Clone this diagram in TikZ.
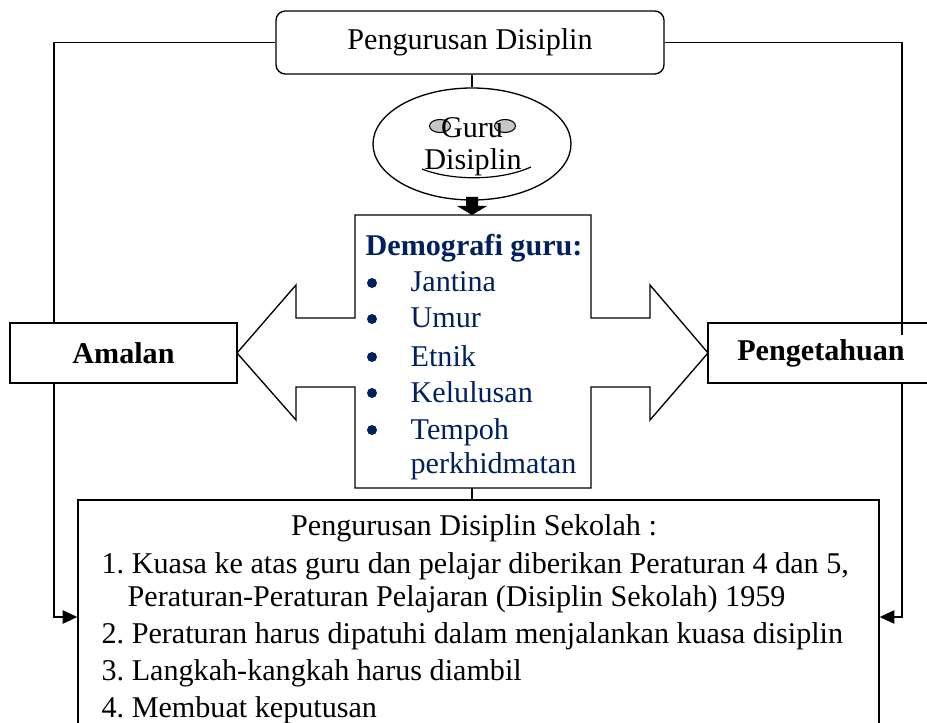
\documentclass[tikz,border=0pt]{standalone}
\usepackage{fontspec}
\setmainfont{Liberation Serif}
\usetikzlibrary{arrows.meta,shapes.geometric}
\definecolor{navy}{RGB}{0,32,96}
\newcommand{\myfs}{\fontsize{22.6}{27.4}\selectfont\frenchspacing}
\begin{document}
\begin{tikzpicture}[x=0.75pt,y=-0.75pt, line width=1pt,
  box/.style={draw, inner sep=0pt, font=\myfs},
  txt/.style={inner sep=0pt, font=\myfs, anchor=base west},
  ctxt/.style={inner sep=0pt, font=\myfs, anchor=base},
  dtxt/.style={inner sep=0pt, font=\myfs, anchor=base west, text=navy},
  arr/.style={-{Triangle[length=11pt,width=10pt]}},
  deco/.style={draw, fill=gray!45, line width=0.8pt}]
\useasboundingbox (0,0) rectangle (927,723);

% top box
\node[box, rounded corners=7pt, minimum width=291pt, minimum height=47.25pt] (top) at (470,42.5) {Pengurusan Disiplin};

% ellipse
\node[draw, ellipse, minimum width=148.5pt, minimum height=84pt, inner sep=0pt] (guru) at (472,144) {};
\draw[deco] (440,126) ellipse (10.5 and 6.5);
\draw[deco] (505,126) ellipse (10.5 and 6.5);
\node[ctxt] (g1) at (472,138) {Guru};
\node[ctxt] (g2) at (473,170) {Disiplin};
\draw[line width=0.9pt] (422,169) .. controls (452,181) and (500,181) .. (531,167);

\draw (guru.north |- top.south) -- (guru.north);

% central box with double arrow outline
\node[minimum width=177pt, minimum height=204.75pt, inner sep=0pt] (demo) at (473,351.5) {};
\coordinate (ltip) at (237,353);
\coordinate (rtip) at (708,353);
\draw[line join=miter] (355,215) -- (591,215) -- (591,318) -- (650,318) -- (650,285) -- (rtip)
  -- (650,420) -- (650,387) -- (591,387) -- (591,488) -- (355,488) -- (355,387) -- (296,387)
  -- (296,420) -- (ltip) -- (296,285) -- (296,318) -- (355,318) -- cycle;

% block arrow from ellipse to box
\fill (466,197) -- (478,197) -- (478,206) -- (487,206) -- (472,215) -- (457,206) -- (466,206) -- cycle;

\node[dtxt, font=\myfs\bfseries] (dh) at (365,256) {Demografi guru:};
\foreach \y/\t/\n in {292/Jantina/d1, 328/Umur/d2, 366/Etnik/d3, 402/Kelulusan/d4, 439/Tempoh/d5} {
  \fill[navy] (372,\y-9) circle (5);
  \node[dtxt] (\n) at (410,\y) {\t};
}
\node[dtxt] (d6) at (410,473) {perkhidmatan};

% side boxes
\node[box, font=\myfs\bfseries, minimum width=170.25pt, minimum height=45pt] (amalan) at (123.5,353) {Amalan};
\node[box, font=\myfs\bfseries, minimum width=169.5pt, minimum height=45pt] (peng) at (821,353) {Pengetahuan};

% bottom box
\node[box, minimum width=600.75pt, minimum height=183.75pt] (bottom) at (478.5,622.5) {};
\node[ctxt] (b0) at (474,535) {Pengurusan Disiplin Sekolah :};
\node[txt] (b1) at (101,573) {1. Kuasa ke atas guru dan pelajar diberikan Peraturan 4 dan 5,};
\node[txt] (b1b) at (127,606) {Peraturan-Peraturan Pelajaran (Disiplin Sekolah) 1959};
\node[txt] (b2) at (101,643) {2. Peraturan harus dipatuhi dalam menjalankan kuasa disiplin};
\node[txt] (b3) at (101,680) {3. Langkah-kangkah harus diambil};
\node[txt] (b4) at (101,717) {4. Membuat keputusan};

\draw (472,488) -- (472,500);

% connectors
\coordinate (L) at (54,0);
\coordinate (R) at (902,0);
\coordinate (A) at (0,617);
\coordinate (Rend) at (902,335);
\draw (top.west) -| (amalan.north -| L);
\draw (top.east) -| (Rend);
\draw[arr] (amalan.south -| L) |- (bottom.west |- A);
\draw[arr] (peng.south -| R) |- (bottom.east |- A);
\end{tikzpicture}
\end{document}
